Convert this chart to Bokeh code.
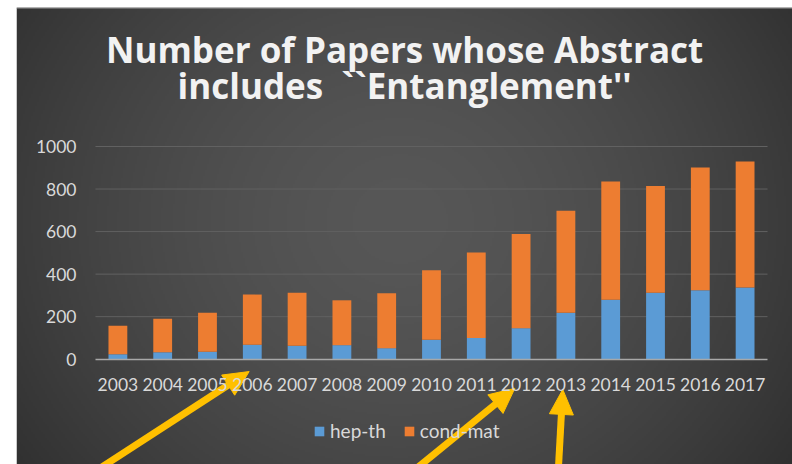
import numpy as np
from bokeh.plotting import figure
from bokeh.models import (ColumnDataSource, Range1d, Legend, LegendItem, Label,
                          Spacer, FixedTicker)
from bokeh.layouts import column, row
from bokeh.embed import file_html
from bokeh.resources import INLINE

# Papers per year whose abstract mentions "Entanglement"
years = ["2003", "2004", "2005", "2006", "2007", "2008", "2009", "2010",
         "2011", "2012", "2013", "2014", "2015", "2016", "2017"]
hep_th = [23, 33, 35, 68, 63, 66, 52, 91, 100, 146, 218, 279, 312, 324, 337]
cond_mat = [134, 157, 183, 236, 249, 211, 258, 327, 402, 443, 480, 557, 502, 577, 593]
series = ["hep-th", "cond-mat"]
y_ticks = [0, 200, 400, 600, 800, 1000]
title_lines = ["Number of Papers whose Abstract", "includes \u00a0``Entanglement''"]

# years singled out with arrows:
# (year, tip offset in slots, tip depth below axis, tail offset in slots)
highlights = [("2006", -0.07, -58, -3.97), ("2012", -0.14, -137, -2.70), ("2013", -0.07, -142, -0.12)]

BG_MID, BG_EDGE = 0x57, 0x37
TXT = "#d9d9d9"
BLUE = "#5B9BD5"
ORANGE = "#ED7D31"
YEL = "#FFC000"

# canvas and visible window (x in category slots, y in papers)
W, H = 776, 457
X0, X1 = -1.763, 15.558
Y0, Y1 = -495.0, 1653.5
XPX = W / (X1 - X0)
YPX = H / (Y1 - Y0)

pos = [i + 0.5 for i in range(len(years))]
src = ColumnDataSource(dict(x=pos, hep=hep_th, cond=cond_mat))

p = figure(x_range=Range1d(X0, X1), y_range=Range1d(Y0, Y1), title=None,
           width=W, height=H, output_backend="svg", toolbar_location=None,
           min_border_left=0, min_border_right=0, min_border_top=0, min_border_bottom=0)
p.outline_line_color = None
p.border_fill_color = "#3c3c3c"
p.grid.visible = False

# soft radial shading of the panel
GW, GH = 388, 229
gx = X0 + (np.arange(GW) + 0.5) * (X1 - X0) / GW
gy = Y0 + (np.arange(GH) + 0.5) * (Y1 - Y0) / GH
PX, PY = np.meshgrid(gx * XPX, gy * YPX)
cx, cy = 6.8 * XPX, 650 * YPX
r = np.sqrt(((PX - cx) / 420.0) ** 2 + ((PY - cy) / 380.0) ** 2)
shade = (BG_MID - (BG_MID - BG_EDGE) * np.clip(r, 0, 1.25) ** 1.6).astype(np.uint8)
img = np.empty((GH, GW), dtype=np.uint32)
view = img.view(dtype=np.uint8).reshape((GH, GW, 4))
view[..., 0] = shade
view[..., 1] = shade
view[..., 2] = shade
view[..., 3] = 255
p.image_rgba(image=[img], x=X0, y=Y0, dw=X1 - X0, dh=Y1 - Y0, level="image")

# thin light edge along the top of the panel
p.segment(x0=[X0], x1=[X1], y0=[Y1], y1=[Y1], line_color="#9a9a9a", line_width=2)

# horizontal grid lines at the value ticks, spanning the year slots only
p.segment(x0=[0] * (len(y_ticks) - 1), x1=[len(years)] * (len(y_ticks) - 1),
          y0=y_ticks[1:], y1=y_ticks[1:], line_color="#616161", line_width=1)

bars = p.vbar_stack(["hep", "cond"], x="x", width=0.42, color=[BLUE, ORANGE],
                    line_color=None, source=src)

# axes pinned to the data origin
p.yaxis.fixed_location = 0
p.yaxis.ticker = FixedTicker(ticks=y_ticks)
p.yaxis.axis_line_color = None
p.yaxis.major_tick_line_color = None
p.yaxis.minor_tick_line_color = None
p.yaxis.major_tick_out = 0
p.yaxis.major_tick_in = 0
p.yaxis.major_label_text_color = TXT
p.yaxis.major_label_text_font = "Lato"
p.yaxis.major_label_text_font_size = "17.5px"
p.yaxis.major_label_standoff = 19

p.xaxis.fixed_location = 0
p.xaxis.bounds = (0, len(years))
p.xaxis.ticker = FixedTicker(ticks=pos)
p.xaxis.major_label_overrides = {x: yr for x, yr in zip(pos, years)}
p.xaxis.axis_line_color = "#a8a8a8"
p.xaxis.axis_line_width = 1.5
p.xaxis.major_tick_line_color = None
p.xaxis.minor_tick_line_color = None
p.xaxis.major_tick_out = 0
p.xaxis.major_tick_in = 0
p.xaxis.major_label_text_color = TXT
p.xaxis.major_label_text_font = "Lato"
p.xaxis.major_label_text_font_size = "17.5px"
p.xaxis.major_label_standoff = 19

# two-line title
for txt, yv in zip(title_lines, [1456, 1287]):
    p.add_layout(Label(x=6.90, y=yv, text=txt, text_align="center",
                       text_baseline="alphabetic", text_font="Open Sans",
                       text_font_size="35px", text_font_style="bold",
                       text_color="#f2f2f2"))

legend = Legend(items=[LegendItem(label=series[0], renderers=[bars[0]]),
                       LegendItem(label=series[1], renderers=[bars[1]])],
                orientation="horizontal", location=(297, 22),
                label_text_color=TXT, label_text_font="Lato", label_text_font_size="19px",
                glyph_width=12, glyph_height=12, label_standoff=5, spacing=17,
                padding=0, margin=0, background_fill_alpha=0, border_line_color=None)
p.add_layout(legend)

# yellow call-out arrows pointing at the year labels
HEAD_L, HEAD_W = 25.0, 24.0
sx0, sy0, sx1, sy1, hxs, hys = [], [], [], [], [], []
for yr, tip_dx, tip_y, tail_dx in highlights:
    xi = years.index(yr) + 0.5
    tx, ty = (xi + tip_dx) * XPX, tip_y * YPX
    bx, by = (xi + tip_dx + tail_dx) * XPX, -600 * YPX
    dx, dy = tx - bx, ty - by
    n = np.hypot(dx, dy)
    ux, uy = dx / n, dy / n
    cxh, cyh = tx - HEAD_L * ux, ty - HEAD_L * uy
    nx, ny = -uy, ux
    sx0.append(bx / XPX); sy0.append(by / YPX)
    sx1.append((cxh + 2 * ux) / XPX); sy1.append((cyh + 2 * uy) / YPX)
    hxs.append([tx / XPX, (cxh + nx * HEAD_W / 2) / XPX, (cxh - nx * HEAD_W / 2) / XPX])
    hys.append([ty / YPX, (cyh + ny * HEAD_W / 2) / YPX, (cyh - ny * HEAD_W / 2) / YPX])
p.segment(x0=sx0, y0=sy0, x1=sx1, y1=sy1, line_color=YEL, line_width=7)
p.patches(xs=hxs, ys=hys, fill_color=YEL, line_color=YEL, line_width=1)

layout = column(Spacer(height=7), row(Spacer(width=16), p))

open("out.html", "w").write(file_html(layout, INLINE))
